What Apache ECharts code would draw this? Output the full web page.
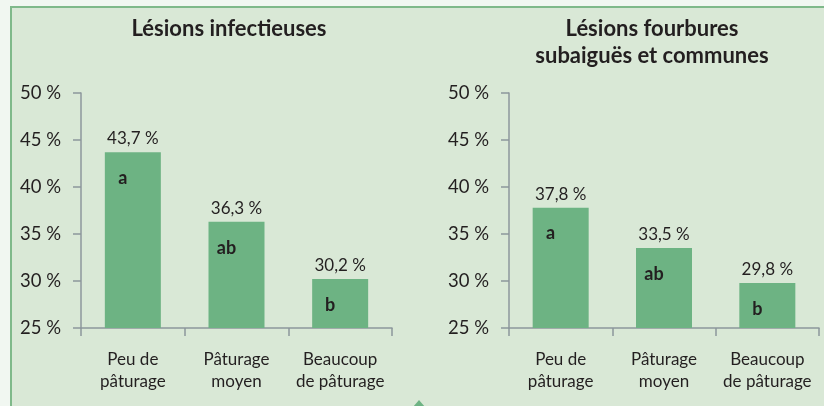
<!DOCTYPE html>
<html>
<head>
<meta charset="utf-8">
<script src="https://cdn.jsdelivr.net/npm/echarts@6/dist/echarts.min.js"></script>
<style>
  html, body { margin: 0; padding: 0; background: #f1f7f1; }
  #chart { width: 824px; height: 406px; }
</style>
</head>
<body>
<div id="chart"></div>
<script>
// catégories (axe x)
const categories = ['Peu de\npâturage', 'Pâturage\nmoyen', 'Beaucoup\nde pâturage']

// valeurs (%)
const infectieuses = [43.7, 36.3, 30.2]
const fourbures = [37.8, 33.5, 29.8]

// lettres de significativité
const lettresInfect = ['a', 'ab', 'b']
const lettresFourb = ['a', 'ab', 'b']

const titres = ['Lésions infectieuses', 'Lésions fourbures\nsubaiguës et communes']

const FONT = 'Lato, "Open Sans", sans-serif'
const INK = '#231f20'
const BAR = '#6db383'
const AXIS = '#8c979c'

const fmt = v => v.toFixed(1).replace('.', ',') + ' %'

const chart = echarts.init(document.getElementById('chart'))

const yAxisBase = (gridIndex) => ({
  type: 'value',
  gridIndex,
  min: 25,
  max: 50,
  interval: 5,
  axisLine: { show: true, lineStyle: { color: AXIS, width: 1.5 } },
  axisTick: { show: true, length: 8, lineStyle: { color: AXIS, width: 1.5 } },
  splitLine: { show: false },
  axisLabel: {
    formatter: '{value} %',
    margin: 20,
    color: INK,
    fontSize: 18.5,
    fontFamily: FONT
  }
})

const xAxisBase = (gridIndex) => ({
  type: 'category',
  gridIndex,
  data: categories,
  axisLine: { show: true, lineStyle: { color: AXIS, width: 1.5 } },
  axisTick: { show: true, length: 8, lineStyle: { color: AXIS, width: 1.5 } },
  axisLabel: {
    interval: 0,
    hideOverlap: false,
    margin: 21,
    color: INK,
    fontSize: 17,
    lineHeight: 22,
    fontFamily: FONT
  }
})

const valueSeries = (idx, data) => ({
  type: 'bar',
  xAxisIndex: idx,
  yAxisIndex: idx,
  data,
  barWidth: 56,
  itemStyle: { color: BAR },
  label: {
    show: true,
    position: 'top',
    distance: 5,
    formatter: p => fmt(p.value),
    color: INK,
    fontSize: 17,
    fontFamily: FONT
  }
})

// série transparente superposée pour les lettres dans les barres
const letterSeries = (idx, data, letters) => ({
  type: 'bar',
  xAxisIndex: idx,
  yAxisIndex: idx,
  data,
  barWidth: 56,
  barGap: '-100%',
  silent: true,
  itemStyle: { color: 'transparent' },
  label: {
    show: true,
    position: 'insideTop',
    distance: 17,
    offset: [-10, 0],
    formatter: p => letters[p.dataIndex],
    color: INK,
    fontSize: 18,
    fontWeight: 'bold',
    fontFamily: FONT
  }
})

chart.setOption({
  backgroundColor: '#f1f7f1',
  animation: false,
  graphic: [
    {
      type: 'rect',
      z: -10,
      shape: { x: 11, y: 7, width: 830, height: 420 },
      style: { fill: '#d9e8d6', stroke: '#7fb98a', lineWidth: 2 }
    },
    {
      type: 'polygon',
      z: -5,
      shape: { points: [[419, 400], [425, 407], [419, 414], [413, 407]] },
      style: { fill: BAR }
    }
  ],
  title: [
    {
      text: titres[0],
      left: 224,
      top: 13,
      textAlign: 'center',
      textStyle: { color: INK, fontSize: 22, fontWeight: 'bold', fontFamily: FONT }
    },
    {
      text: titres[1],
      left: 647,
      top: 10,
      textAlign: 'center',
      textStyle: { color: INK, fontSize: 22, fontWeight: 'bold', lineHeight: 27, fontFamily: FONT }
    }
  ],
  grid: [
    { left: 81, right: 432, top: 93, bottom: 78 },
    { left: 509, right: 5, top: 93, bottom: 78 }
  ],
  xAxis: [xAxisBase(0), xAxisBase(1)],
  yAxis: [yAxisBase(0), yAxisBase(1)],
  series: [
    valueSeries(0, infectieuses),
    letterSeries(0, infectieuses, lettresInfect),
    valueSeries(1, fourbures),
    letterSeries(1, fourbures, lettresFourb)
  ]
})
</script>
</body>
</html>
